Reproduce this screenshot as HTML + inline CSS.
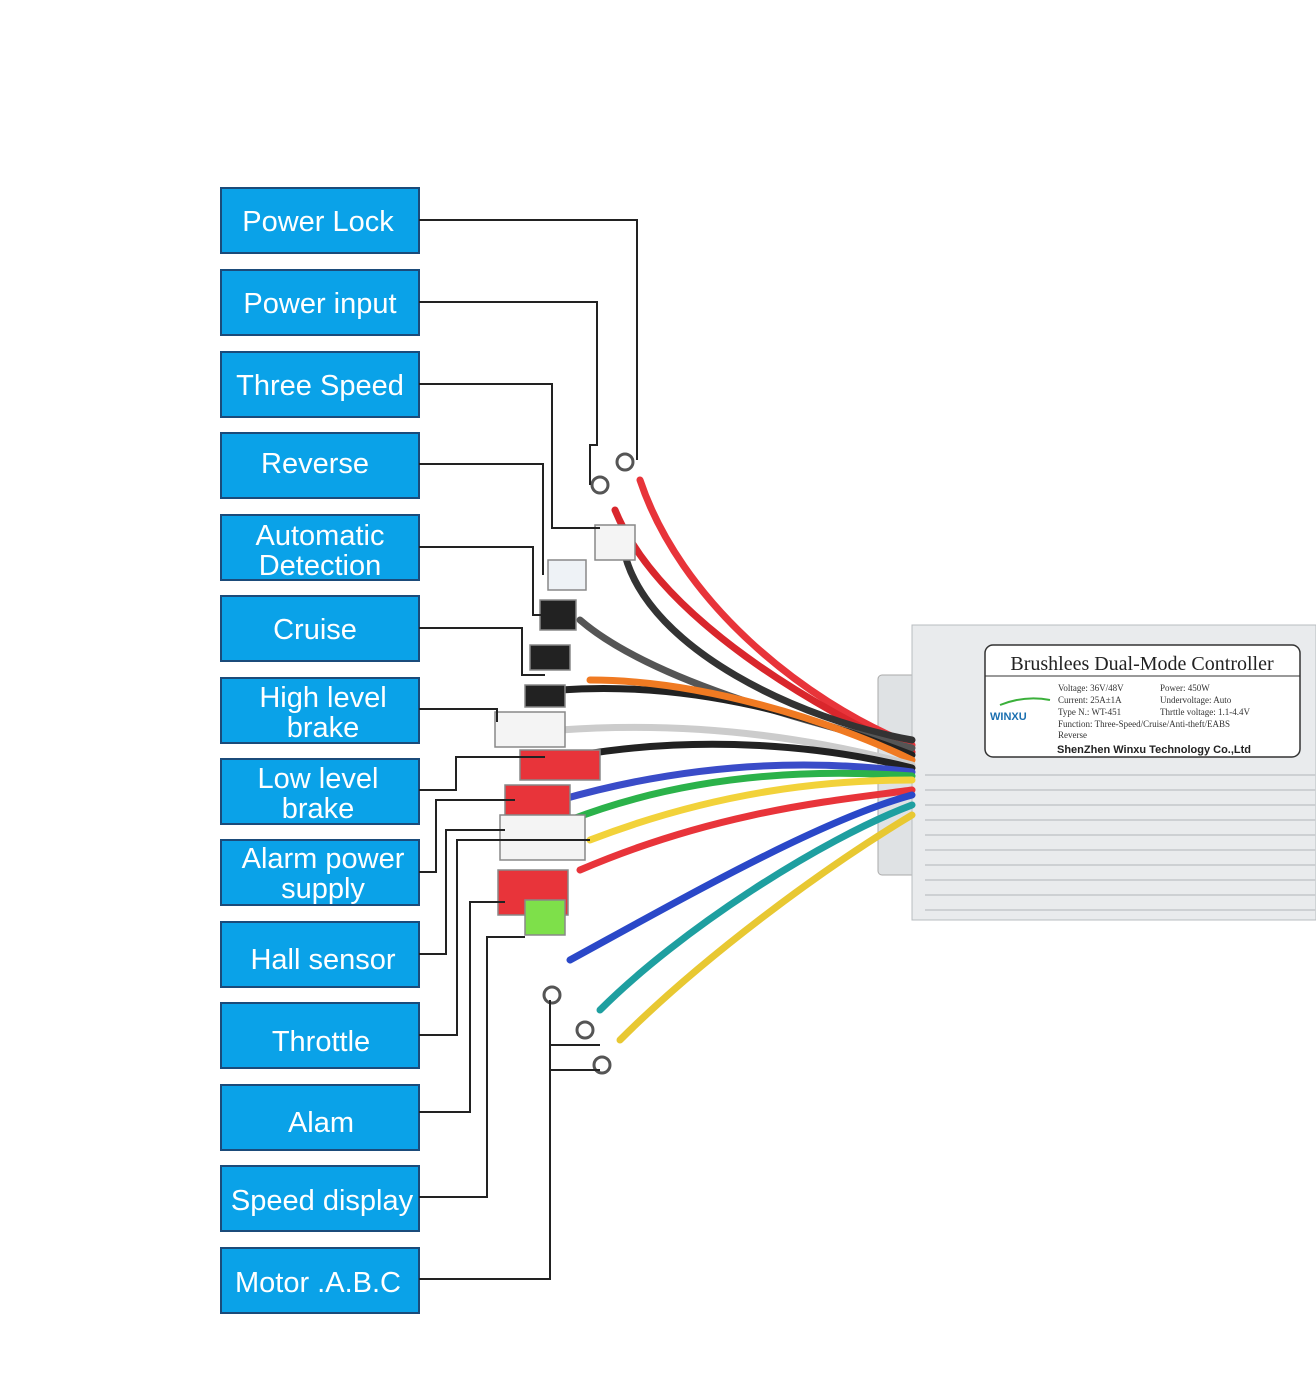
<!DOCTYPE html>
<html><head><meta charset="utf-8"><style>
html,body{margin:0;padding:0;background:#fff;}
svg{display:block;}
.lb{font-family:"Liberation Sans","DejaVu Sans",sans-serif;font-size:29px;fill:#fff;text-anchor:middle;}
.ln{fill:none;stroke:#222;stroke-width:2;}
.w{fill:none;stroke-width:7;stroke-linecap:round;}
</style></head><body>
<svg width="1316" height="1387" viewBox="0 0 1316 1387" xmlns="http://www.w3.org/2000/svg">
<rect width="1316" height="1387" fill="#fff"/>
<!-- boxes -->
<g fill="#0aa2e8" stroke="#1b4b7a" stroke-width="2">
<rect x="221" y="188" width="198" height="65"/>
<rect x="221" y="270" width="198" height="65"/>
<rect x="221" y="352" width="198" height="65"/>
<rect x="221" y="433" width="198" height="65"/>
<rect x="221" y="515" width="198" height="65"/>
<rect x="221" y="596" width="198" height="65"/>
<rect x="221" y="678" width="198" height="65"/>
<rect x="221" y="759" width="198" height="65"/>
<rect x="221" y="840" width="198" height="65"/>
<rect x="221" y="922" width="198" height="65"/>
<rect x="221" y="1003" width="198" height="65"/>
<rect x="221" y="1085" width="198" height="65"/>
<rect x="221" y="1166" width="198" height="65"/>
<rect x="221" y="1248" width="198" height="65"/>
</g>
<g class="lb">
<text x="318" y="231">Power Lock</text>
<text x="320" y="313">Power input</text>
<text x="320" y="395">Three Speed</text>
<text x="315" y="473">Reverse</text>
<text x="320" y="545">Automatic</text><text x="320" y="575">Detection</text>
<text x="315" y="639">Cruise</text>
<text x="323" y="707">High level</text><text x="323" y="737">brake</text>
<text x="318" y="788">Low level</text><text x="318" y="818">brake</text>
<text x="323" y="868">Alarm power</text><text x="323" y="898">supply</text>
<text x="323" y="969">Hall sensor</text>
<text x="321" y="1051">Throttle</text>
<text x="321" y="1132">Alam</text>
<text x="322" y="1210">Speed display</text>
<text x="318" y="1292">Motor .A.B.C</text>
</g>
<!-- controller -->
<rect x="878" y="675" width="40" height="200" rx="4" fill="#dfe2e4" stroke="#aaa"/>
<rect x="912" y="625" width="404" height="295" fill="#e9ebed" stroke="#b8bcc0"/>
<g stroke="#cdd0d3" stroke-width="2">
<line x1="925" y1="775" x2="1316" y2="775"/><line x1="925" y1="790" x2="1316" y2="790"/>
<line x1="925" y1="805" x2="1316" y2="805"/><line x1="925" y1="820" x2="1316" y2="820"/>
<line x1="925" y1="835" x2="1316" y2="835"/><line x1="925" y1="850" x2="1316" y2="850"/>
<line x1="925" y1="865" x2="1316" y2="865"/><line x1="925" y1="880" x2="1316" y2="880"/>
<line x1="925" y1="895" x2="1316" y2="895"/><line x1="925" y1="910" x2="1316" y2="910"/>
</g>
<rect x="985" y="645" width="315" height="112" rx="8" fill="#fff" stroke="#333" stroke-width="1.5"/>
<line x1="985" y1="676" x2="1300" y2="676" stroke="#333"/>
<text x="1142" y="670" font-family="Liberation Serif,serif" font-size="20" text-anchor="middle" fill="#222">Brushlees Dual-Mode Controller</text>
<g font-family="Liberation Serif,serif" font-size="9" fill="#333">
<text x="1058" y="691">Voltage: 36V/48V</text><text x="1160" y="691">Power: 450W</text>
<text x="1058" y="703">Current: 25A±1A</text><text x="1160" y="703">Undervoltage: Auto</text>
<text x="1058" y="715">Type N.: WT-451</text><text x="1160" y="715">Thrttle voltage: 1.1-4.4V</text>
<text x="1058" y="727">Function: Three-Speed/Cruise/Anti-theft/EABS</text>
<text x="1058" y="738">Reverse</text>
</g>
<text x="1057" y="753" font-family="Liberation Sans,sans-serif" font-size="11" font-weight="bold" fill="#222">ShenZhen Winxu Technology Co.,Ltd</text>
<text x="990" y="720" font-family="Liberation Sans,sans-serif" font-size="11" font-weight="bold" fill="#1a6fb0">WINXU</text>
<path d="M1000 705 Q1025 695 1050 700" stroke="#3bb03b" stroke-width="2" fill="none"/>
<!-- wires -->
<g class="w">
<path d="M640 480 C680 600 800 700 912 745" stroke="#e8343a"/>
<path d="M615 510 C660 620 820 710 912 752" stroke="#d9262c"/>
<path d="M625 555 C650 650 800 720 912 740" stroke="#333"/>
<path d="M580 620 C650 680 800 720 912 748" stroke="#555"/>
<path d="M560 690 C700 680 820 720 912 755" stroke="#222"/>
<path d="M590 680 C700 680 830 720 912 760" stroke="#f07a22"/>
<path d="M560 730 C700 720 820 740 912 765" stroke="#ccc"/>
<path d="M580 755 C700 735 820 745 912 768" stroke="#222"/>
<path d="M560 800 C700 760 820 760 912 772" stroke="#3a4cc8"/>
<path d="M570 820 C700 770 830 770 912 776" stroke="#2bb24a"/>
<path d="M590 840 C720 790 830 780 912 780" stroke="#f2d23a"/>
<path d="M580 870 C720 810 840 800 912 790" stroke="#e8343a"/>
<path d="M570 960 C680 900 820 820 912 795" stroke="#2a48c8"/>
<path d="M600 1010 C680 930 820 840 912 805" stroke="#1e9fa0"/>
<path d="M620 1040 C700 960 820 870 912 815" stroke="#e8c832"/>
</g>
<!-- connectors -->
<g stroke="#888" stroke-width="1.5">
<rect x="548" y="560" width="38" height="30" fill="#eef2f6"/>
<rect x="540" y="600" width="36" height="30" fill="#222"/>
<rect x="530" y="645" width="40" height="25" fill="#222"/>
<rect x="525" y="685" width="40" height="22" fill="#222"/>
<rect x="495" y="712" width="70" height="35" fill="#f4f4f4"/>
<rect x="520" y="750" width="80" height="30" fill="#e8343a"/>
<rect x="505" y="785" width="65" height="35" fill="#e8343a"/>
<rect x="500" y="815" width="85" height="45" fill="#f4f4f4"/>
<rect x="498" y="870" width="70" height="45" fill="#e8343a"/>
<rect x="525" y="900" width="40" height="35" fill="#7ee04a"/>
<rect x="595" y="525" width="40" height="35" fill="#f4f4f4"/>
</g>
<g fill="none" stroke="#555" stroke-width="3">
<circle cx="625" cy="462" r="8"/><circle cx="600" cy="485" r="8"/>
<circle cx="552" cy="995" r="8"/><circle cx="585" cy="1030" r="8"/><circle cx="602" cy="1065" r="8"/>
</g>
<!-- leader lines -->
<g class="ln">
<polyline points="419,220 637,220 637,460"/>
<polyline points="419,302 597,302 597,445 590,445 590,485"/>
<polyline points="419,384 552,384 552,528 600,528"/>
<polyline points="419,464 543,464 543,575"/>
<polyline points="419,547 533,547 533,615 550,615"/>
<polyline points="419,628 522,628 522,675 545,675"/>
<polyline points="419,709 497,709 497,722"/>
<polyline points="419,790 456,790 456,757 545,757"/>
<polyline points="419,872 436,872 436,800 515,800"/>
<polyline points="419,954 446,954 446,830 505,830"/>
<polyline points="419,1035 457,1035 457,840 590,840"/>
<polyline points="419,1112 470,1112 470,902 505,902"/>
<polyline points="419,1197 487,1197 487,937 525,937"/>
<polyline points="419,1279 550,1279 550,1000"/>
<polyline points="550,1045 600,1045"/>
<polyline points="550,1070 600,1070"/>
</g>
</svg>
</body></html>
